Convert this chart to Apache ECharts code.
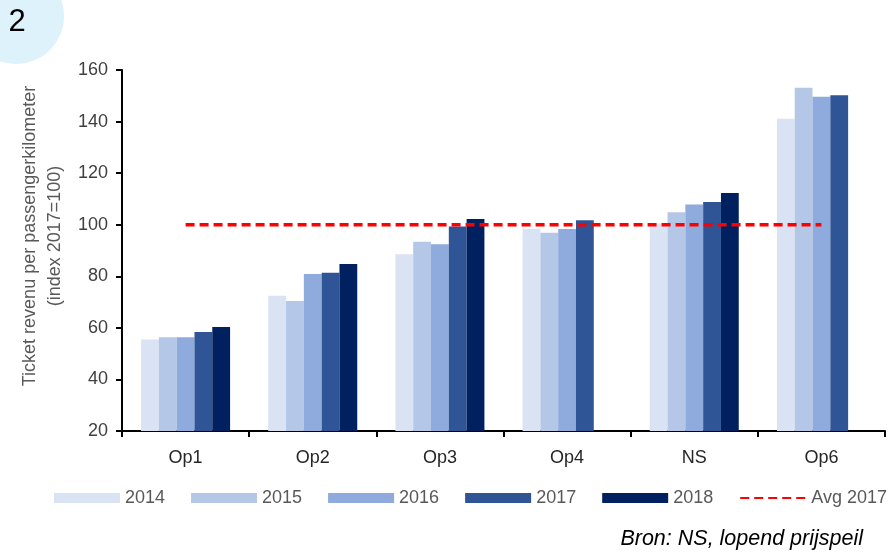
<!DOCTYPE html>
<html>
<head>
<meta charset="utf-8">
<script src="https://cdn.jsdelivr.net/npm/echarts@6/dist/echarts.min.js"></script>
<style>
  html, body { margin: 0; padding: 0; background: #fff; }
  #chart { width: 891px; height: 555px; }
</style>
</head>
<body>
<div id="chart"></div>
<script>
// Ticket revenue per passenger-km, index 2017 = 100
var categories = ['Op1', 'Op2', 'Op3', 'Op4', 'NS', 'Op6'];
var y2014 = [55.5, 72.5, 88.5, 98.3, 100.5, 141.1];
var y2015 = [56.4, 70.4, 93.4, 96.9, 104.8, 153.1];
var y2016 = [56.4, 80.9, 92.4, 98.3, 107.8, 149.6];
var y2017 = [58.4, 81.4, 99.3, 101.7, 108.8, 150.2];
var y2018 = [60.3, 84.8, 102.2, null, 112.3, null];
var avg2017 = [100, 100, 100, 100, 100, 100];
var yTicks = { min: 20, max: 160, step: 20 };

var barColors = ['#DAE3F3', '#B4C7E7', '#8FAADC', '#2F5597', '#002060'];
var years = ['2014', '2015', '2016', '2017', '2018'];
var yearValues = [y2014, y2015, y2016, y2017, y2018];
var FONT = 'Liberation Sans, Arial, sans-serif';

var chart = echarts.init(document.getElementById('chart'), null, { renderer: 'canvas' });

var series = years.map(function (yr, i) {
  return {
    name: yr,
    type: 'bar',
    data: yearValues[i],
    barGap: '0%',
    barCategoryGap: '30%',
    itemStyle: { color: barColors[i] },
    z: 2
  };
});
series.push({
  name: 'Avg 2017',
  type: 'line',
  data: avg2017,
  symbol: 'none',
  lineStyle: { color: '#FF0000', width: 3.5, type: [9, 5] },
  itemStyle: { color: '#FF0000' },
  z: 5
});

var legendData = years.map(function (yr) { return { name: yr, icon: 'rect' }; });
// dashed line only, no marker dot on the legend key
legendData.push({ name: 'Avg 2017', itemStyle: { color: 'rgba(0,0,0,0)', borderWidth: 0 } });

chart.setOption({
  animation: false,
  textStyle: { fontFamily: FONT },
  grid: { left: 122, right: 6, top: 70, bottom: 124, containLabel: false },
  legend: {
    data: legendData,
    left: 49,
    top: 484,
    width: 845,
    itemWidth: 66,
    itemHeight: 10,
    itemGap: 26,
    textStyle: { color: '#595959', fontSize: 18, fontFamily: FONT }
  },
  xAxis: {
    type: 'category',
    data: categories,
    boundaryGap: true,
    axisLine: { lineStyle: { color: '#000', width: 2 } },
    axisTick: { show: true, length: 6, lineStyle: { color: '#000', width: 2 } },
    axisLabel: { color: '#262626', fontSize: 18, margin: 18, fontFamily: FONT },
    splitLine: { show: false }
  },
  yAxis: {
    type: 'value',
    min: yTicks.min,
    max: yTicks.max,
    interval: yTicks.step,
    axisLine: { show: true, lineStyle: { color: '#000', width: 2 } },
    axisTick: { show: true, length: 6, lineStyle: { color: '#000', width: 2 } },
    axisLabel: { color: '#404040', fontSize: 18, margin: 14, fontFamily: FONT },
    splitLine: { show: false }
  },
  graphic: [
    {
      type: 'circle',
      shape: { cx: 16, cy: 16, r: 48 },
      style: { fill: '#DDF2FB' },
      z: 0
    },
    {
      type: 'text',
      x: 17, y: 22,
      style: {
        text: '2',
        fill: '#000',
        font: '31px ' + FONT,
        textAlign: 'center',
        textVerticalAlign: 'middle'
      },
      z: 1
    },
    {
      type: 'text',
      x: 43, y: 236,
      rotation: Math.PI / 2,
      style: {
        text: 'Ticket revenu per passengerkilometer\n(index 2017=100)',
        fill: '#595959',
        font: '18px ' + FONT,
        lineHeight: 25,
        textAlign: 'center',
        textVerticalAlign: 'middle'
      }
    },
    {
      type: 'text',
      right: 28, top: 528,
      style: {
        text: 'Bron: NS, lopend prijspeil',
        fill: '#000',
        font: 'italic 21.5px ' + FONT
      }
    }
  ],
  series: series
});
</script>
</body>
</html>
